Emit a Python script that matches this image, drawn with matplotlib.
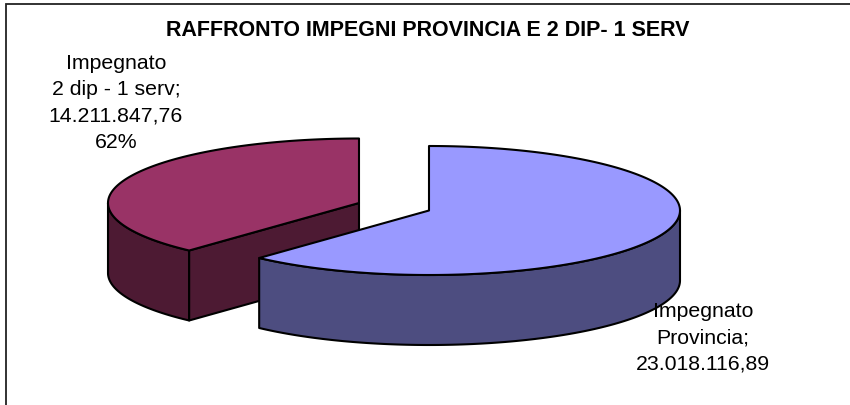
#camembert 3D dessine a la main : matplotlib n'a pas de pie 3D
import numpy as np
import matplotlib
matplotlib.use("Agg")
import matplotlib.pyplot as plt
from matplotlib.patches import Polygon

plt.rcParams['font.family'] = ['Liberation Sans', 'DejaVu Sans']

titolo = "RAFFRONTO IMPEGNI PROVINCIA E 2 DIP- 1 SERV"
categorie = ["Impegnato\nProvincia", "Impegnato\n2 dip - 1 serv"]
valori = [23018116.89, 14211847.76]
valori_txt = ["23.018.116,89", "14.211.847,76"]
colori_top = ["#9999FF", "#993366"]
colori_lato = ["#4D4D80", "#4D1A33"]

#geometrie en pixels de l'image
rx, ry, prof = 251, 64.5, 70
centre_bleu = (429, 210.5)
centre_rouge = (359, 203)

fig = plt.figure(figsize=(8.5, 4.05), dpi=100)
ax = fig.add_axes([0, 0, 1, 1])
ax.set_xlim(0, 850)
ax.set_ylim(405, 0)
ax.axis("off")

#le cadre n'a que le haut et la gauche, le reste est coupe
ax.plot([6, 6, 850], [405, 3.5, 3.5], color="#222222", lw=1.3, solid_joinstyle="miter")

def point(c, a):
    #a en degres, sens horaire depuis le haut
    t = np.radians(a)
    return c[0] + rx * np.sin(t), c[1] - ry * np.cos(t)

def arc(c, a1, a2):
    t = np.linspace(a1, a2, 200)
    x, y = point(c, t)
    return np.column_stack([x, y])

def face(pts, couleur, z):
    ax.add_patch(Polygon(pts, closed=True, fc=couleur, ec="black", lw=1.5, joinstyle="round", zorder=z))

fraction = valori[0] / sum(valori)
coupe = 360 * fraction

#tranche rouge : derriere, dessinee en premier
c = centre_rouge
rim = arc(c, coupe, 270)
face(np.vstack([rim, (rim + [0, prof])[::-1]]), colori_lato[1], 2)
bord = np.array([c, point(c, coupe)])
face(np.vstack([bord, (bord + [0, prof])[::-1]]), colori_lato[1], 2)
face(np.vstack([[c], arc(c, coupe, 360)]), colori_top[1], 3)

#tranche bleue
c = centre_bleu
rim = arc(c, 90, coupe)
face(np.vstack([rim, (rim + [0, prof])[::-1]]), colori_lato[0], 4)
face(np.vstack([[c], arc(c, 0, coupe)]), colori_top[0], 5)

ax.text(427.5, 30, titolo, ha="center", va="center", fontsize=15.5, fontweight="bold", zorder=10)

nom = categorie[1] + ";\n" + valori_txt[1] + "\n" + "%d%%" % round(100 * fraction)
ax.text(116, 103, nom, ha="center", va="center", fontsize=15.3, linespacing=1.47, zorder=10)
nom = categorie[0] + ";\n" + valori_txt[0]
ax.text(703, 338, nom, ha="center", va="center", fontsize=15.3, linespacing=1.47, zorder=10)

fig.savefig("out.png", dpi=100)
